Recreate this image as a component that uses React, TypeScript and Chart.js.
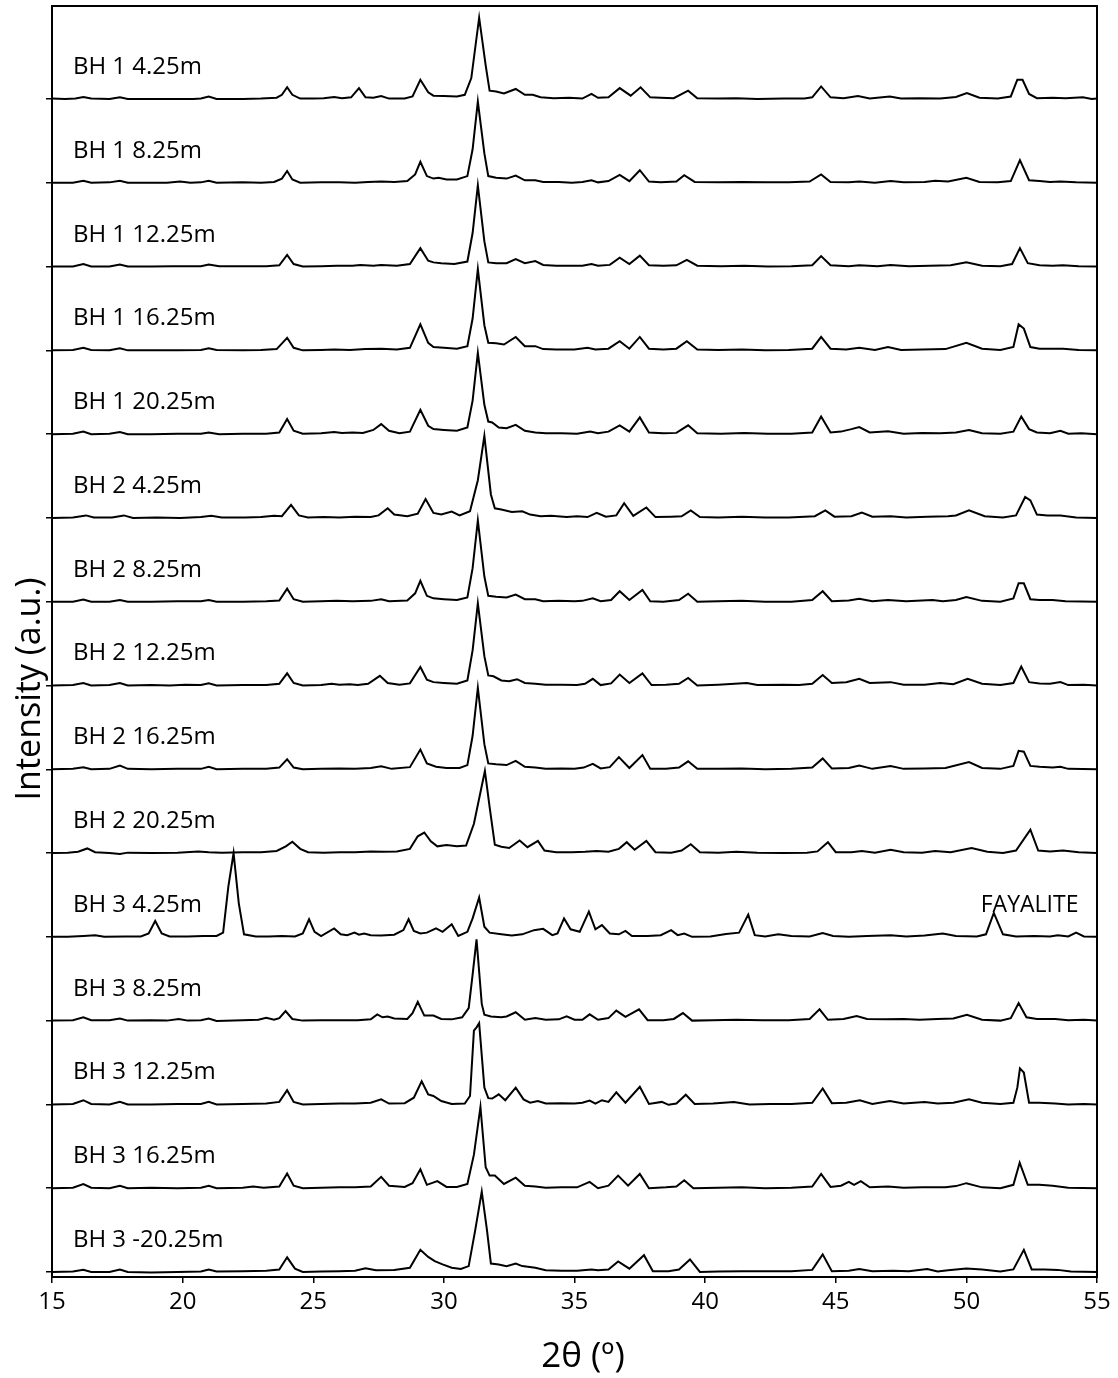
import React, { useEffect, useRef } from "react";
import { Chart, registerables } from "chart.js";

Chart.register(...registerables);

// Sample labels, top to bottom
const sampleLabels = [
  "BH 1 4.25m", "BH 1 8.25m", "BH 1 12.25m", "BH 1 16.25m", "BH 1 20.25m",
  "BH 2 4.25m", "BH 2 8.25m", "BH 2 12.25m", "BH 2 16.25m", "BH 2 20.25m",
  "BH 3 4.25m", "BH 3 8.25m", "BH 3 12.25m", "BH 3 16.25m", "BH 3 -20.25m",
];

// x tick labels
const xTicks = [15, 20, 25, 30, 35, 40, 45, 50, 55];

const xTitle = "2θ (º)";
const yTitle = "Intensity (a.u.)";

// Each pattern: [2θ, relative intensity]
const bh1_425 = [[15,0.5],[15.5,0],[15.9,0.5],[16.2,2.5],[16.5,0.5],[17.2,0],[17.6,2],[17.9,0],[18.6,0],[19.5,0],[20.4,0],[20.7,0.5],[21.0,3],[21.3,0],[22.3,0],[23.0,0.5],[23.6,1.5],[23.8,5],[24.0,14],[24.2,5],[24.5,0.5],[25.0,0.5],[25.4,1],[25.8,2.5],[26.1,1],[26.45,2],[26.75,13],[27.0,2],[27.3,1.5],[27.6,3.5],[27.9,0.5],[28.5,0.5],[28.8,3],[29.1,23],[29.4,8],[29.6,4],[30.0,3.5],[30.5,3],[30.8,5],[31.05,25],[31.35,97],[31.6,40],[31.75,10],[32.0,9],[32.3,6.5],[32.75,12],[33.1,5],[33.4,5],[33.7,2],[34.2,1],[34.8,1.5],[35.3,0.5],[35.65,6],[35.9,1.5],[36.3,2],[36.73,13],[37.15,4],[37.53,14],[37.9,2],[38.3,1.5],[38.8,1],[39.35,10],[39.7,1],[40.5,0.5],[41.2,1],[42.0,0],[43.0,0.5],[43.8,0.5],[44.1,2],[44.44,15],[44.8,2],[45.3,1],[45.85,3.5],[46.3,0.5],[47.07,3],[47.5,0.5],[48.2,1],[49.0,0.5],[49.6,2.5],[50.02,7],[50.5,1.5],[51.2,0.5],[51.7,3],[51.95,23],[52.15,23],[52.4,6],[52.7,1],[53.3,1.5],[53.8,1],[54.46,2],[54.8,0],[55,0.5]];

const bh1_825 = [[15,0],[15.8,0],[16.2,2.5],[16.5,0],[17.2,0.5],[17.6,2.5],[17.9,0],[18.8,0],[19.4,0],[19.9,1.5],[20.3,0],[20.7,0.5],[21.0,2.5],[21.3,0],[22.3,0.5],[23.0,0],[23.5,1],[23.8,5],[24.0,14],[24.2,4],[24.5,0],[25.3,0.5],[26.0,0.5],[26.6,0],[27.1,1],[27.6,1.5],[28.1,1],[28.6,2],[28.9,10],[29.1,25],[29.35,8],[29.6,5],[29.8,6],[30.1,4],[30.5,4],[30.9,8],[31.1,40],[31.3,97],[31.55,35],[31.7,8],[32.0,6],[32.4,5],[32.75,8.5],[33.1,3],[33.5,3],[33.8,1],[34.4,1],[34.9,0],[35.3,1],[35.65,3],[35.9,0.5],[36.3,2],[36.73,9.5],[37.1,2],[37.5,15],[37.85,1.5],[38.3,0.5],[38.9,1.5],[39.2,9],[39.6,1],[40.5,0.5],[41.4,1],[42.3,0.5],[43.2,0.5],[44.0,1.5],[44.44,10],[44.8,1],[45.5,0.5],[45.9,1.5],[46.5,0],[47.1,2],[47.6,0.5],[48.4,1],[48.8,2.5],[49.3,1.5],[50.0,6],[50.5,1],[51.2,0.5],[51.7,2],[52.05,27],[52.4,3],[52.8,2],[53.2,1],[53.6,1.5],[54.2,0.5],[55,0]];

const bh1_1225 = [[15,0],[15.8,0],[16.2,3],[16.5,0],[17.2,0],[17.6,2.5],[17.9,0],[18.8,0],[19.6,0.5],[20.7,0.5],[21.0,2.5],[21.4,0.5],[22.3,0.5],[23.2,0.5],[23.7,1.5],[24.0,14],[24.25,3],[24.6,0],[25.3,0.5],[25.9,1],[26.5,1],[26.8,2],[27.3,1],[27.6,2],[28.2,1],[28.7,3],[29.1,22],[29.4,7],[29.6,5],[29.9,4],[30.4,3],[30.9,6],[31.1,40],[31.3,97],[31.55,30],[31.7,5],[32.0,4],[32.4,4],[32.75,9],[33.1,4],[33.5,6.5],[33.8,2],[34.3,1],[34.8,1],[35.3,1],[35.65,3],[35.9,1],[36.35,2],[36.73,10.5],[37.1,3],[37.5,13],[37.85,1.5],[38.4,1],[38.9,1.5],[39.3,8],[39.7,1],[40.6,0.5],[41.5,1],[42.4,0],[43.3,0.5],[44.1,1.5],[44.44,12.5],[44.8,1.5],[45.5,0.5],[45.9,1.5],[46.6,0.5],[47.1,2],[47.8,0.5],[48.6,1],[49.4,1.5],[50.0,5],[50.6,1],[51.3,0.5],[51.75,3],[52.05,22],[52.35,4],[52.8,1.5],[53.3,1],[53.7,1.5],[54.3,0.5],[55,0]];

const bh1_1625 = [[15,0],[15.8,0.5],[16.2,3],[16.5,0.5],[17.2,0],[17.6,2.5],[17.9,0],[18.8,0],[19.8,0],[20.7,0.5],[21.0,2.5],[21.3,0.5],[22.3,0],[23.0,0.5],[23.6,1.5],[24.0,15],[24.25,3],[24.6,0],[25.3,0.5],[25.8,1],[26.4,0.5],[27.0,1.5],[27.6,2],[28.2,1],[28.7,3],[29.1,31],[29.4,9],[29.6,4],[30.0,3],[30.5,2],[30.9,5],[31.1,38],[31.3,97],[31.55,30],[31.7,9],[32.0,8.5],[32.3,7],[32.75,16],[33.1,5],[33.5,5],[33.8,1.5],[34.3,1],[35.0,1],[35.5,3],[35.8,1],[36.3,2],[36.73,11],[37.1,2],[37.5,16],[37.85,2],[38.4,1],[38.9,2],[39.3,11],[39.7,1],[40.5,0.5],[41.4,1],[42.3,0],[43.2,0.5],[44.1,2],[44.44,16],[44.8,2],[45.4,1],[45.9,3],[46.5,0.5],[47.0,4],[47.5,0.5],[48.3,1],[49.2,1.5],[50.0,9],[50.6,2],[51.3,0.5],[51.8,4],[52.0,31],[52.2,26],[52.45,4],[52.8,2],[53.2,2],[53.7,2],[54.3,0.5],[55,0]];

const bh1_2025 = [[15,0],[15.8,0.5],[16.2,3],[16.5,0],[17.2,0.5],[17.6,2.5],[17.9,0],[18.8,0],[19.8,0.5],[20.7,0.5],[21.0,2],[21.4,0],[22.3,0.5],[23.2,0.5],[23.7,2],[24.0,18],[24.25,4],[24.6,0.5],[25.3,1],[25.8,2.5],[26.1,1.5],[26.5,2],[26.9,1.5],[27.3,5],[27.6,12],[27.9,4],[28.3,1],[28.7,3],[29.1,29],[29.4,10],[29.6,6],[30.0,5],[30.5,4],[30.9,8],[31.1,40],[31.3,97],[31.55,35],[31.7,15],[31.85,14],[32.1,8],[32.4,7],[32.75,11],[33.1,4],[33.5,2],[33.9,1],[34.5,1],[35.1,0.5],[35.6,3],[35.9,1],[36.3,3],[36.73,10.5],[37.1,3],[37.5,20],[37.85,2],[38.4,1],[38.9,1.5],[39.35,10.5],[39.7,1],[40.6,0.5],[41.5,1.5],[42.4,0.5],[43.3,0.5],[44.1,2],[44.44,21],[44.8,2],[45.2,3],[45.6,6],[45.9,8.5],[46.3,2],[47.0,3.5],[47.6,0.5],[48.3,1.5],[49.0,1],[49.6,2],[50.1,5],[50.6,1],[51.3,0.5],[51.8,3],[52.1,21],[52.4,6],[52.7,2],[53.2,1],[53.6,4],[53.9,0.5],[54.4,1],[55,0]];

const bh2_425 = [[15,0],[15.8,0.5],[16.3,3],[16.6,0.5],[17.3,0.5],[17.75,3],[18.1,0],[19.0,0.5],[19.9,0],[20.7,1],[21.1,2.5],[21.5,0.5],[22.4,0.5],[23.0,1],[23.5,2.5],[23.8,2],[24.15,15.5],[24.45,3],[24.8,0.5],[25.4,1],[26.0,0.5],[26.6,1.5],[27.2,1],[27.5,3],[27.85,11.5],[28.1,4],[28.6,2],[29.0,5],[29.3,22.5],[29.6,6],[29.9,4],[30.3,7.5],[30.6,3],[31.0,8],[31.3,45],[31.55,98],[31.8,28],[31.95,11.5],[32.2,10],[32.6,7],[33.0,8],[33.3,4],[33.7,2],[34.1,2.5],[34.7,1],[35.1,2],[35.5,1],[35.85,6],[36.2,1.5],[36.6,3],[36.9,17.5],[37.25,2.5],[37.75,12.5],[38.1,1],[38.7,1.5],[39.1,2],[39.45,9],[39.8,1],[40.5,0.5],[41.4,1.5],[42.3,0.5],[43.2,0.5],[44.2,2],[44.6,9],[44.95,1.5],[45.6,2],[46.0,6.5],[46.4,1.5],[47.1,2],[47.7,0.5],[48.5,1.5],[49.3,2],[49.6,3],[50.1,9],[50.7,2],[51.4,0.5],[51.9,3],[52.25,25],[52.45,21],[52.7,4],[53.1,3],[53.6,3],[54.2,0.5],[55,0]];

const bh2_825 = [[15,0],[15.8,0],[16.2,2.5],[16.5,0],[17.2,0],[17.6,2],[17.9,0],[18.8,0],[19.8,0.5],[20.7,0.5],[21.0,2],[21.3,0],[22.3,0],[23.2,0.5],[23.7,1.5],[24.0,15.5],[24.25,3],[24.6,0],[25.3,0.5],[25.9,1],[26.5,0.5],[27.2,1],[27.6,3],[27.9,0.5],[28.6,1.5],[28.9,10],[29.1,25],[29.35,7],[29.6,4],[30.0,3],[30.5,2],[30.9,5],[31.1,40],[31.3,97],[31.55,30],[31.7,7],[32.0,6],[32.4,5],[32.75,8.5],[33.1,3],[33.5,3],[33.8,0.5],[34.4,1],[35.0,0.5],[35.3,1],[35.7,4],[36.0,0.5],[36.4,2],[36.73,12.5],[37.1,2],[37.6,14],[37.9,0.5],[38.4,0],[39.0,2],[39.35,9.5],[39.7,0],[40.5,0.5],[41.4,1],[42.3,0],[43.3,0],[44.1,2],[44.5,12.5],[44.85,0.5],[45.5,1.5],[45.9,3.5],[46.4,0.5],[47.0,2],[47.7,0.5],[48.7,2],[49.1,0.5],[49.6,2],[50.0,5.5],[50.6,1],[51.3,0],[51.8,4],[52.0,22],[52.2,22],[52.45,3],[52.8,2],[53.3,2],[53.8,0.5],[55,0]];

const bh2_1225 = [[15,0],[15.8,0.5],[16.2,3],[16.5,0],[17.2,0.5],[17.6,3],[17.9,0],[18.8,0.5],[19.5,0],[20.1,1],[20.7,0.5],[21.0,2.5],[21.3,0],[22.3,0.5],[23.2,0.5],[23.7,2],[24.0,14.5],[24.25,3],[24.6,0],[25.3,0.5],[25.7,2],[26.0,1],[26.4,1.5],[26.7,0.5],[27.1,2],[27.55,11.5],[27.85,3],[28.3,1],[28.7,2.5],[29.1,22],[29.35,7],[29.6,4],[30.0,3],[30.5,2],[30.9,6],[31.1,42],[31.3,98],[31.55,35],[31.7,12],[31.9,11],[32.2,6],[32.5,5],[32.8,7.5],[33.1,3],[33.5,2],[33.9,1],[34.5,1],[35.1,0.5],[35.4,2],[35.7,8],[36.0,0.5],[36.4,2.5],[36.73,13],[37.1,3],[37.6,14.5],[37.95,0.5],[38.5,1],[39.0,2],[39.35,9],[39.7,0],[40.5,1],[41.6,3],[42.0,0.5],[43.0,1],[43.6,0.5],[44.1,2],[44.5,12.5],[44.85,3],[45.4,4],[45.9,8],[46.3,3],[47.1,4],[47.6,1],[48.4,1],[49.0,3],[49.5,1.5],[50.05,8],[50.6,2],[51.3,0.5],[51.8,3],[52.1,22.5],[52.4,4],[52.8,2.5],[53.2,2],[53.6,4],[53.9,0.5],[54.5,1],[55,0]];

const bh2_1625 = [[15,0],[15.8,0.5],[16.2,2.5],[16.5,0],[17.2,0.5],[17.6,4.5],[17.9,0.5],[18.8,0],[19.8,0.5],[20.7,0.5],[21.0,3],[21.3,0],[22.3,0.5],[23.2,0.5],[23.7,2],[24.0,12],[24.25,2],[24.6,0],[25.3,0.5],[26.0,1],[26.6,0.5],[27.2,1.5],[27.6,3.5],[28.0,0.5],[28.7,2.5],[29.1,23.5],[29.35,7],[29.7,3],[30.1,1.5],[30.6,1.5],[30.9,5],[31.1,40],[31.3,97],[31.55,30],[31.7,7],[32.0,6],[32.4,5],[32.75,10],[33.1,3],[33.5,2],[33.9,0.5],[34.5,1],[35.0,0.5],[35.35,2],[35.7,6.5],[36.0,1],[36.35,2.5],[36.7,14.5],[37.1,1.5],[37.6,17],[37.9,0.5],[38.5,0.5],[39.0,2],[39.35,9.5],[39.7,0.5],[40.5,0.5],[41.4,1],[42.3,0],[43.3,0.5],[44.1,2],[44.5,13],[44.85,1],[45.5,1.5],[45.9,4.5],[46.4,0.5],[47.1,4],[47.6,0.5],[48.4,1],[49.2,1.5],[50.1,8.5],[50.6,1.5],[51.3,0.5],[51.8,4],[52.0,22],[52.2,21],[52.45,4],[52.8,3],[53.3,2],[53.6,3],[53.9,0.5],[55,0]];

const bh2_2025 = [[15,0],[15.6,0.5],[16.0,1.5],[16.35,5.5],[16.65,1],[17.2,0],[17.6,-1],[17.9,0.5],[18.8,0],[19.8,0.5],[20.6,2],[21.0,1],[21.5,0.5],[22.3,1],[23.0,1],[23.6,2.5],[23.95,8],[24.2,13.5],[24.5,5],[24.8,1],[25.4,0.5],[26.0,1],[26.6,1],[27.2,2],[27.7,1.5],[28.2,2],[28.7,5],[29.0,20],[29.25,24.5],[29.5,14],[29.75,8],[30.1,9.5],[30.5,8],[30.85,9],[31.15,35],[31.45,80],[31.57,98],[31.75,55],[31.95,10],[32.2,7.5],[32.5,6],[32.9,15],[33.2,7],[33.6,14.5],[33.85,3],[34.3,1],[34.9,1],[35.4,1.5],[35.85,2.5],[36.3,1.5],[36.7,5],[37.0,13],[37.3,4],[37.75,14.5],[38.1,1],[38.7,0.5],[39.1,3],[39.45,10.5],[39.8,1],[40.5,0.5],[41.2,1.5],[42.0,0.5],[43.0,0],[43.9,0.5],[44.3,2],[44.7,13],[45.0,1],[45.6,1],[46.0,2.5],[46.5,0.5],[47.1,4],[47.6,1],[48.3,0.5],[48.8,2.5],[49.4,1],[50.2,6],[50.8,1.5],[51.4,0],[51.9,3],[52.45,28],[52.75,3],[53.2,2],[53.7,3],[54.3,1],[55,0]];

const bh3_425 = [[15,0],[15.6,0],[16.2,1],[16.65,2],[17.0,0],[17.8,0.5],[18.4,0.5],[18.7,4],[18.95,19],[19.2,4],[19.5,0.5],[20.2,0.5],[20.8,1],[21.3,1],[21.55,5],[21.75,60],[21.95,100],[22.15,40],[22.35,3],[22.8,0.5],[23.3,0.5],[23.8,1],[24.3,0.5],[24.6,4],[24.84,21],[25.05,6],[25.3,1],[25.8,10],[26.05,3],[26.3,2],[26.58,5],[26.75,2.5],[26.95,4],[27.2,2],[27.6,1.5],[28.1,2.5],[28.45,8],[28.65,21],[28.85,7],[29.1,4],[29.35,5],[29.7,10],[29.95,6],[30.3,15],[30.55,1],[30.9,6],[31.1,22],[31.35,47],[31.55,12],[31.75,5],[32.2,3],[32.6,1.5],[33.0,3],[33.45,8],[33.8,9.5],[34.15,2],[34.35,4],[34.6,22],[34.85,9],[35.2,6],[35.55,30],[35.8,9],[36.05,14],[36.35,4],[36.7,3],[36.95,7],[37.2,1],[37.8,1],[38.3,2],[38.7,8],[38.95,2],[39.2,4],[39.5,0],[40.2,0.5],[40.8,3.5],[41.3,5],[41.65,26.5],[41.9,2],[42.3,0.5],[42.8,3],[43.3,1],[44.0,0.5],[44.5,4.5],[44.9,1],[45.5,0],[46.2,1],[47.1,2],[47.7,0.5],[48.4,1.5],[49.1,4],[49.6,1],[50.4,0.5],[50.75,3],[51.05,28.5],[51.4,3],[51.9,0.5],[52.6,1],[53.2,0.5],[53.5,2],[53.9,0.5],[54.2,5],[54.5,0.5],[55,0]];

const bh3_825 = [[15,0],[15.8,0.5],[16.2,4],[16.5,0.5],[17.2,0.5],[17.6,2.5],[17.9,0],[18.8,0.5],[19.4,0],[19.85,2],[20.2,0],[20.7,0.5],[21.0,2.5],[21.3,-0.5],[22.3,0.5],[22.9,1],[23.2,3.5],[23.5,1],[23.7,3],[23.94,11.5],[24.2,2],[24.6,0],[25.3,0.5],[26.0,0.5],[26.7,0.5],[27.2,1.5],[27.45,7.5],[27.65,4],[27.85,5],[28.1,2.5],[28.6,2],[28.8,9],[29.0,22.5],[29.25,6],[29.6,6],[29.9,2],[30.3,1.5],[30.7,4],[30.95,15],[31.1,55],[31.25,97],[31.45,20],[31.55,7],[31.8,5],[32.2,4],[32.4,5],[32.75,10],[33.1,1],[33.5,3],[33.9,1],[34.4,1.5],[34.7,5],[35.0,1],[35.3,1],[35.58,7.5],[35.9,1],[36.3,3],[36.6,12],[36.95,4.5],[37.47,13.5],[37.8,0.5],[38.4,0.5],[38.8,2],[39.15,9],[39.5,0],[40.3,0.5],[41.2,1],[42.2,0.5],[43.2,0.5],[44.0,2],[44.38,13.5],[44.7,1],[45.3,2],[45.8,5.5],[46.2,2],[46.9,1.5],[47.6,2],[48.2,1],[48.9,2],[49.5,2.5],[50.02,7],[50.6,1],[51.3,0],[51.7,3],[52.0,21],[52.3,4],[52.7,2],[53.4,2],[53.9,0.5],[54.5,1],[55,0]];

const bh3_1225 = [[15,0],[15.8,0.5],[16.2,5],[16.5,0.5],[17.2,0],[17.6,3],[17.9,0],[18.8,0],[19.8,0.5],[20.7,0.5],[21.0,3],[21.3,0],[22.3,0.5],[23.2,1],[23.7,3],[24.0,17],[24.25,3],[24.6,0],[25.3,0.5],[26.0,1],[26.6,1],[27.2,2],[27.6,6],[27.9,1],[28.5,1.5],[28.85,8],[29.15,27.5],[29.4,12],[29.6,10],[29.9,4],[30.3,0.5],[30.8,1],[31.0,10],[31.15,88],[31.25,92],[31.35,97],[31.55,20],[31.7,7.5],[31.85,7],[32.1,12],[32.35,5],[32.75,20],[33.05,6],[33.3,2],[33.6,4],[33.9,1],[34.5,1.5],[35.0,1],[35.3,2],[35.58,4.5],[35.8,1],[36.05,5],[36.3,3],[36.6,14.5],[36.95,2],[37.5,21],[37.85,0.5],[38.34,3],[38.6,-0.5],[38.9,1],[39.26,11.5],[39.6,0.5],[40.3,1],[41.1,3],[41.7,0],[42.5,0.5],[43.3,0.5],[44.1,2],[44.5,19],[44.85,1.5],[45.4,2],[45.92,5],[46.4,0.5],[47.07,4],[47.6,1],[48.4,3],[48.9,1],[49.5,2],[50.1,6],[50.6,2],[51.3,0.5],[51.8,2],[51.95,20],[52.05,43],[52.2,38],[52.4,2],[52.8,2],[53.4,1],[53.9,0],[54.5,0.5],[55,0]];

const bh3_1625 = [[15,0],[15.8,0.5],[16.2,5],[16.5,0.5],[17.2,0],[17.6,3],[17.9,0],[18.8,0.5],[19.8,0],[20.7,0.5],[21.0,3],[21.3,0],[22.3,0.5],[22.7,2],[23.1,0.5],[23.7,2],[24.0,17.5],[24.25,3],[24.6,0],[25.3,0.5],[26.0,1],[26.6,1],[27.2,2],[27.6,13.5],[27.9,3],[28.5,1.5],[28.8,6],[29.1,22.5],[29.35,4],[29.75,8.5],[30.1,1.5],[30.5,1.5],[30.9,5],[31.15,40],[31.4,97],[31.6,25],[31.75,15],[31.95,15],[32.3,5],[32.75,12.5],[33.1,3],[33.5,2],[33.9,0.5],[34.5,1],[35.1,1],[35.58,7.5],[35.9,0],[36.3,3],[36.67,15],[37.05,3],[37.5,17],[37.85,0],[38.5,1],[38.9,2],[39.2,9.5],[39.55,0],[40.5,0.5],[41.4,1],[42.3,0],[43.3,0.5],[44.1,2],[44.44,17],[44.8,1.5],[45.2,3],[45.5,7.5],[45.7,4],[45.96,8.5],[46.3,1],[47.0,2],[47.6,0.5],[48.3,1],[49.2,1],[49.6,2.5],[50.0,6],[50.6,1],[51.3,0],[51.8,4],[52.04,30.5],[52.35,4],[52.8,4],[53.3,3],[53.9,0.5],[55,0]];

const bh3_2025 = [[15,0],[15.8,0.5],[16.2,2.5],[16.5,0],[17.2,0],[17.6,3],[17.9,0],[18.8,-0.5],[19.8,0],[20.7,0.5],[21.0,3],[21.3,0.5],[22.3,1],[23.2,1.5],[23.7,3],[24.0,17.5],[24.3,4],[24.6,0],[25.3,0.5],[26.0,1],[26.6,1.5],[27.0,4.5],[27.4,2],[28.1,2.5],[28.7,5],[29.1,26.5],[29.4,18],[29.65,13],[29.95,9],[30.3,5],[30.65,3.5],[30.95,7],[31.2,50],[31.45,96],[31.65,50],[31.8,10],[32.1,9],[32.4,7],[32.75,10],[33.0,7],[33.5,5],[33.9,2],[34.5,1.5],[35.1,1.5],[35.65,3],[35.9,2],[36.3,3],[36.67,12.5],[37.1,4],[37.66,20],[38.0,1],[38.6,1],[39.0,3],[39.42,15],[39.8,0],[40.5,0.5],[41.4,1],[42.3,1],[43.3,1],[44.1,2.5],[44.5,21],[44.85,1],[45.5,1.5],[45.9,3.5],[46.4,1],[47.2,1.5],[47.8,1],[48.5,3.5],[48.9,0.5],[49.3,2],[50.0,4],[50.6,3],[51.3,0.5],[51.8,3],[52.2,26.5],[52.5,3],[53.0,3],[53.5,2.5],[54.0,0.5],[55,0]];

const patterns = [
  bh1_425, bh1_825, bh1_1225, bh1_1625, bh1_2025,
  bh2_425, bh2_825, bh2_1225, bh2_1625, bh2_2025,
  bh3_425, bh3_825, bh3_1225, bh3_1625, bh3_2025,
];

// vertical offset between stacked patterns
const stackStep = 100;
const offsets = patterns.map((_, i) => (patterns.length - 1 - i) * stackStep);

// annotation
const annotationText = "FAYALITE";
const annotationPattern = 10;
const annotationX = 50.55;

const FONT = "'Open Sans', 'Noto Sans', sans-serif";

export default function App() {
  const ref = useRef<HTMLCanvasElement>(null);
  useEffect(() => {
    if (!ref.current) return;
    const datasets = patterns.map((p, i) => ({
      label: sampleLabels[i],
      data: p.map(([x, y]) => ({ x, y: y + offsets[i] })),
      borderColor: "#000",
      borderWidth: 2,
      pointRadius: 0,
      tension: 0,
      fill: false,
    }));

    const labelPlugin = {
      id: "labels",
      afterDatasetsDraw(chart: any) {
        const { ctx, scales, chartArea } = chart;
        ctx.save();
        ctx.fillStyle = "#000";
        ctx.textBaseline = "middle";
        ctx.textAlign = "left";
        ctx.font = `24px ${FONT}`;
        sampleLabels.forEach((t, i) => {
          ctx.fillText(t, scales.x.getPixelForValue(15.8), scales.y.getPixelForValue(offsets[i] + 38));
        });
        ctx.font = `23px ${FONT}`;
        ctx.fillText(
          annotationText,
          scales.x.getPixelForValue(annotationX),
          scales.y.getPixelForValue(offsets[annotationPattern] + 37)
        );
        // plot border box
        ctx.strokeStyle = "#000";
        ctx.lineWidth = 2;
        ctx.strokeRect(chartArea.left, chartArea.top, chartArea.right - chartArea.left, chartArea.bottom - chartArea.top);

        // axis titles
        ctx.textAlign = "center";
        ctx.textBaseline = "alphabetic";
        ctx.font = `35px ${FONT}`;
        ctx.fillText(xTitle, 583, 1367);
        ctx.save();
        ctx.translate(40, 689);
        ctx.rotate(-Math.PI / 2);
        ctx.font = `34px ${FONT}`;
        ctx.fillText(yTitle, 0, 0);
        ctx.restore();
        ctx.restore();
      },
    };

    const chart = new Chart(ref.current, {
      type: "line",
      data: { datasets },
      plugins: [labelPlugin],
      options: {
        responsive: false,
        animation: false,
        layout: { padding: { top: 6, right: 21, left: 0, bottom: 0 } },
        plugins: { legend: { display: false }, tooltip: { enabled: false } },
        scales: {
          x: {
            type: "linear",
            min: xTicks[0],
            max: xTicks[xTicks.length - 1],
            afterBuildTicks: (s: any) => { s.ticks = xTicks.map((v) => ({ value: v })); },
            ticks: { color: "#000", font: { family: FONT, size: 24 }, padding: 5, maxRotation: 0, autoSkip: false },
            grid: { drawOnChartArea: false, drawTicks: true, tickLength: 6, color: "#000", lineWidth: 1.5 },
            border: { color: "#000", width: 2 },
            title: { display: false },
            afterFit: (s: any) => { s.height = 101; },
          },
          y: {
            type: "linear",
            min: -6,
            max: 1511,
            afterBuildTicks: (s: any) => { s.ticks = offsets.map((v) => ({ value: v })); },
            ticks: { display: false },
            grid: { drawOnChartArea: false, drawTicks: true, tickLength: 6, color: "#000", lineWidth: 1.5 },
            border: { color: "#000", width: 2 },
            title: { display: false },
            afterFit: (s: any) => { s.width = 52; },
          },
        },
      },
    });
    return () => chart.destroy();
  }, []);

  return (
    <div style={{ position: "absolute", left: 0, top: 0, width: 1118, height: 1378, background: "#fff" }}>
      <canvas ref={ref} width={1118} height={1378} style={{ display: "block" }} />
    </div>
  );
}
